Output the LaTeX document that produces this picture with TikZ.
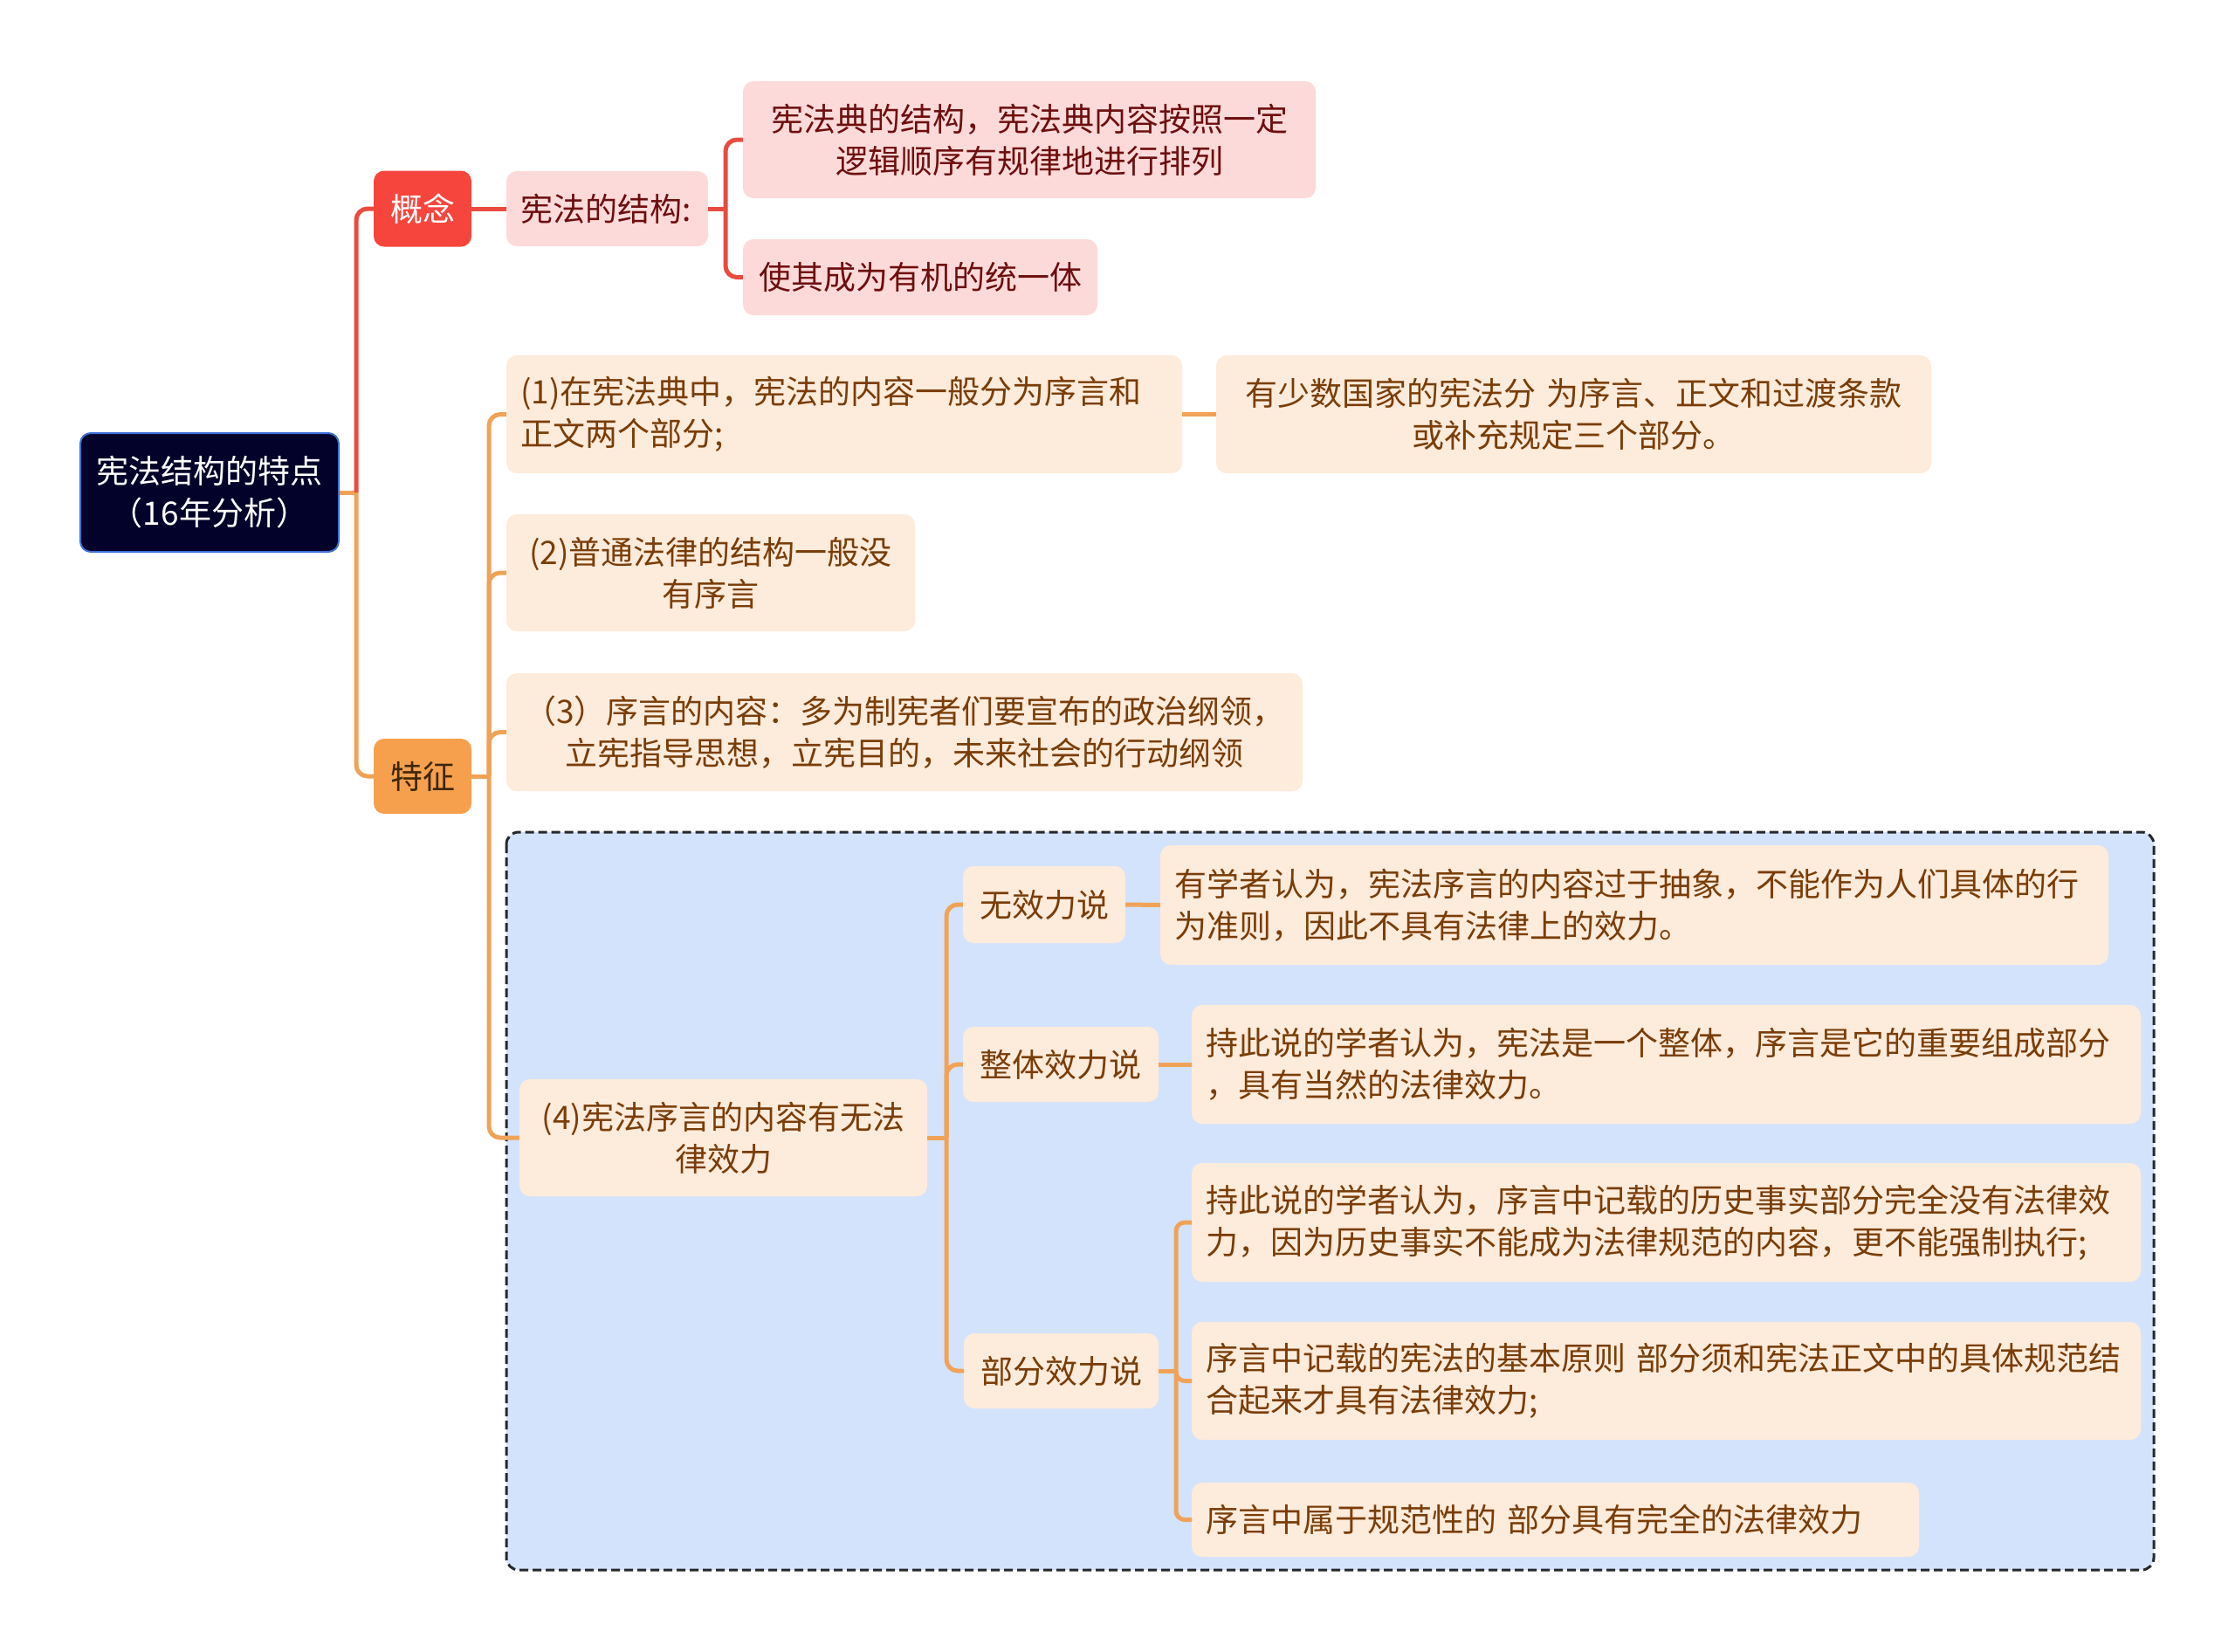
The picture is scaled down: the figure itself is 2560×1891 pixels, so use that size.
\documentclass[tikz,border=0pt]{standalone}
\usepackage{fontspec}
\setmainfont{Noto Sans CJK SC}

\definecolor{rootfill}{HTML}{02022B}
\definecolor{rootedge}{HTML}{3D6FD6}
\definecolor{redfill}{HTML}{F5453D}
\definecolor{redline}{HTML}{E94B40}
\definecolor{pinkfill}{HTML}{FDDADA}
\definecolor{pinktext}{HTML}{6E0E0E}
\definecolor{orangefill}{HTML}{F6A04D}
\definecolor{orangetext}{HTML}{3D2608}
\definecolor{orangeline}{HTML}{F0A358}
\definecolor{peachfill}{HTML}{FDEBDB}
\definecolor{peachtext}{HTML}{7A3D08}
\definecolor{boxfill}{HTML}{D4E3FC}
\definecolor{boxedge}{HTML}{26282C}

\newcommand{\mapfont}{\fontsize{37pt}{48pt}\selectfont}

\begin{document}
\begin{tikzpicture}[x=1pt, y=-1pt,
  every node/.style={font=\mapfont, inner xsep=16pt, inner ysep=0pt, rounded corners=12pt},
  rootbox/.style={fill=rootfill, draw=rootedge, line width=2pt, text=white, align=center},
  redbox/.style={fill=redfill, text=white, align=center},
  orangebox/.style={fill=orangefill, text=orangetext, align=center},
  pinkbox/.style={fill=pinkfill, text=pinktext},
  peachbox/.style={fill=peachfill, text=peachtext},
  redlink/.style={draw=redline, line width=5pt},
  orangelink/.style={draw=orangeline, line width=5pt},
]

\useasboundingbox (0,0) rectangle (2560,1891);

% dashed frame round part (4)
\draw[draw=boxedge, fill=boxfill, line width=3pt, dash pattern=on 10pt off 5pt, rounded corners=14pt] (580,953) rectangle (2467,1798);

% root and main branches
\node[rootbox, text width=264pt, minimum height=136pt] (root) at (240,564) {宪法结构的特点\\（16年分析）};
\node[redbox, text width=80pt, minimum height=87pt] (gainian) at (484,239) {概念};
\node[orangebox, text width=80pt, minimum height=86pt] (tezheng) at (484,889) {特征};

% concept
\node[pinkbox, text width=199pt, minimum height=86pt, align=left] (jiegou) at (695.5,239) {宪法的结构:};
\node[pinkbox, text width=624pt, minimum height=134pt, align=center] (jiegou1) at (1179,160) {宪法典的结构，宪法典内容按照一定\\逻辑顺序有规律地进行排列};
\node[pinkbox, text width=374pt, minimum height=87pt, align=center] (jiegou2) at (1054,317.5) {使其成为有机的统一体};

% features
\node[peachbox, text width=742pt, minimum height=135pt, align=left] (tz1) at (967,474.5) {(1)在宪法典中，宪法的内容一般分为序言和\\正文两个部分;};
\node[peachbox, text width=787pt, minimum height=135pt, align=center] (tz1a) at (1802.5,474.5) {有少数国家的宪法分 为序言、正文和过渡条款\\或补充规定三个部分。};
\node[peachbox, text width=436pt, minimum height=134pt, align=center] (tz2) at (814,656) {(2)普通法律的结构一般没\\有序言};
\node[peachbox, text width=880pt, minimum height=135pt, align=center] (tz3) at (1036,838.5) {（3）序言的内容：多为制宪者们要宣布的政治纲领，\\立宪指导思想，立宪目的，未来社会的行动纲领};
\node[peachbox, text width=435pt, minimum height=134pt, align=center] (tz4) at (828.5,1303) {(4)宪法序言的内容有无法\\律效力};

% theories
\node[peachbox, text width=154pt, minimum height=88pt, align=center] (wuxiao) at (1196,1036) {无效力说};
\node[peachbox, text width=1054pt, minimum height=137pt, align=left] (wuxiao1) at (1872,1036.5) {有学者认为，宪法序言的内容过于抽象，不能作为人们具体的行\\为准则，因此不具有法律上的效力。};
\node[peachbox, text width=192pt, minimum height=86pt, align=center] (zhengti) at (1215,1219) {整体效力说};
\node[peachbox, text width=1055pt, minimum height=136pt, align=left] (zhengti1) at (1908.5,1219) {持此说的学者认为，宪法是一个整体，序言是它的重要组成部分\\，具有当然的法律效力。};
\node[peachbox, text width=191pt, minimum height=86pt, align=center] (bufen) at (1215.5,1570) {部分效力说};
\node[peachbox, text width=1055pt, minimum height=136pt, align=left] (bufen1) at (1908.5,1400) {持此说的学者认为，序言中记载的历史事实部分完全没有法律效\\力，因为历史事实不能成为法律规范的内容，更不能强制执行;};
\node[peachbox, text width=1055pt, minimum height=135pt, align=left] (bufen2) at (1908.5,1581.5) {序言中记载的宪法的基本原则 部分须和宪法正文中的具体规范结\\合起来才具有法律效力;};
\node[peachbox, text width=801pt, minimum height=85pt, align=left] (bufen3) at (1781.5,1740.5) {序言中属于规范性的 部分具有完全的法律效力};

% junctions
\coordinate (rootj) at (408,564);
\coordinate (jiegouj) at (831,239);
\coordinate (tezhengj) at (560,889);
\coordinate (tz4j) at (1084,1303);
\coordinate (bufenj) at (1347,1570);

% links
\draw[orangelink] (root.east) -- (rootj);
\draw[redlink, rounded corners=13pt] (rootj) |- (gainian.west);
\draw[orangelink, rounded corners=13pt] (rootj) |- (tezheng.west);

\draw[redlink] (gainian.east) -- (jiegou.west);
\draw[redlink] (jiegou.east) -- (jiegouj);
\draw[redlink, rounded corners=13pt] (jiegouj) |- (jiegou1.west);
\draw[redlink, rounded corners=13pt] (jiegouj) |- (jiegou2.west);

\draw[orangelink] (tezheng.east) -- (tezhengj);
\draw[orangelink, rounded corners=13pt] (tezhengj) |- (tz1.west);
\draw[orangelink, rounded corners=13pt] (tezhengj) |- (tz2.west);
\draw[orangelink, rounded corners=13pt] (tezhengj) |- (tz3.west);
\draw[orangelink, rounded corners=13pt] (tezhengj) |- (tz4.west);
\draw[orangelink] (tz1.east) -- (tz1a.west);

\draw[orangelink] (tz4.east) -- (tz4j);
\draw[orangelink, rounded corners=13pt] (tz4j) |- (wuxiao.west);
\draw[orangelink, rounded corners=13pt] (tz4j) |- (zhengti.west);
\draw[orangelink, rounded corners=13pt] (tz4j) |- (bufen.west);
\draw[orangelink] (wuxiao.east) -- (wuxiao1.west);
\draw[orangelink] (zhengti.east) -- (zhengti1.west);

\draw[orangelink] (bufen.east) -- (bufenj);
\draw[orangelink, rounded corners=10pt] (bufenj) |- (bufen1.west);
\draw[orangelink, rounded corners=10pt] (bufenj) |- (bufen2.west);
\draw[orangelink, rounded corners=10pt] (bufenj) |- (bufen3.west);

\end{tikzpicture}
\end{document}
